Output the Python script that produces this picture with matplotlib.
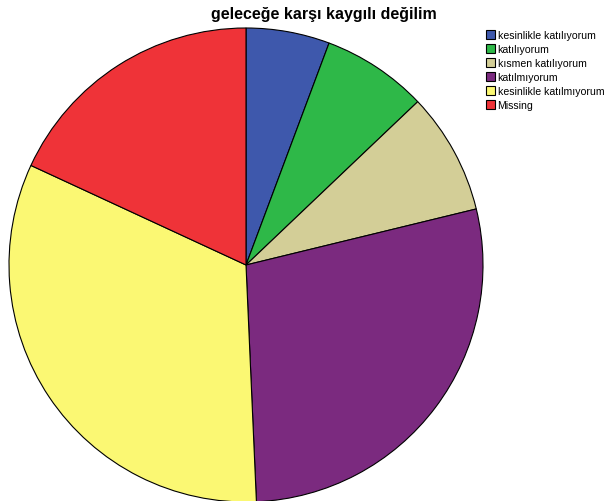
import matplotlib.pyplot as plt

# yanıt kategorileri ve payları (%)
labels = ['kesinlikle katılıyorum', 'katılıyorum', 'kısmen katılıyorum',
          'katılmıyorum', 'kesinlikle katılmıyorum', 'Missing']
values = [5.7, 7.2, 8.3, 28.1, 32.6, 18.1]
colors = ['#3E58AC', '#2EB848', '#D3CE97', '#7B2A7F', '#FBF873', '#EF3338']

plt.rcParams['font.family'] = ['Liberation Sans', 'DejaVu Sans']

fig = plt.figure(figsize=(6.08, 5.02), dpi=100)
W, H = 608, 502
cx, cy, r = 246, 266, 237
ax = fig.add_axes([(cx - r) / W, (H - cy - r) / H, 2 * r / W, 2 * r / H])
wedges, _ = ax.pie(values, colors=colors, startangle=90, counterclock=False,
                   wedgeprops=dict(edgecolor='black', linewidth=0.8))
ax.set_xlim(-1, 1)
ax.set_ylim(-1, 1)
ax.set_aspect('equal')
ax.axis('off')

fig.text(324 / W, 1 - 15 / H, 'geleceğe karşı kaygılı değilim', ha='center', va='center',
         fontsize=11.5, fontweight='bold')

fig.legend(wedges, labels, loc='upper left', bbox_to_anchor=(486 / W, 1 - 31 / H),
           frameon=False, fontsize=7.6, handlelength=0.85, handleheight=0.85,
           handletextpad=0.25, labelspacing=0.38, borderaxespad=0, borderpad=0)

fig.savefig('out.png', dpi=100, facecolor='white')
